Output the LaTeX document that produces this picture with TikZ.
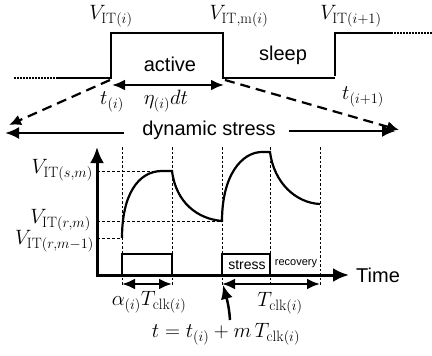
\documentclass[tikz,border=0pt]{standalone}
\usepackage{fontspec}
\setsansfont{Liberation Sans}
\DeclareMathSizes{20}{20}{15}{12}
\usetikzlibrary{arrows.meta}
\tikzset{
  wave/.style={line width=2pt, line cap=butt},
  dotwave/.style={line width=2pt, dash pattern=on 1.5pt off 1.5pt},
  guide/.style={line width=0.6pt, dash pattern=on 2.5pt off 2pt},
  hguide/.style={line width=0.8pt, dash pattern=on 3pt off 2pt},
  curve/.style={line width=2.2pt},
  dblarrow/.style={line width=2.5pt, {Latex[length=13pt,width=11pt]}-{Latex[length=13pt,width=11pt]}},
  bigarrow/.style={line width=2.5pt, -{Latex[length=14pt,width=12pt]}},
  dasharrow/.style={line width=2.2pt, dash pattern=on 10pt off 6pt, -{Latex[length=12pt,width=11pt]}},
  axis/.style={line width=3pt, -{Latex[length=16pt,width=14pt]}},
  lab/.style={font=\fontsize{20}{22}\selectfont, inner sep=0pt},
  word/.style={font=\sffamily\fontsize{20}{22}\selectfont, inner sep=0pt},
  smallword/.style={font=\sffamily\fontsize{14}{16}\selectfont, inner sep=0pt},
  tinyword/.style={font=\sffamily\fontsize{11}{13}\selectfont, inner sep=0pt},
}
\begin{document}
\begin{tikzpicture}[x=1pt,y=-1pt]
\useasboundingbox (0,0) rectangle (432,356);
% ---------- top waveform ----------
\coordinate (w0) at (14,78);
\coordinate (w1) at (57,78);
\coordinate (w2) at (111,78);
\coordinate (w3) at (111,33);
\coordinate (w4) at (223,33);
\coordinate (w5) at (223,78);
\coordinate (w6) at (335,78);
\coordinate (w7) at (335,33);
\coordinate (w8) at (391,33);
\coordinate (w9) at (432,33);
\draw[dotwave] (w0) -- (w1);
\draw[wave] (w1) -- (w2) -- ([yshift=2pt]w2) -- (w3) -- (w4) -- (w5) -- (w6);
\draw[wave] ([yshift=2pt]w6) -- (w7) -- (w8);
\draw[dotwave] (w8) -- (w9);

\node[lab] (vi) at (111,16) {$V_{\mathrm{IT}(i)}$};
\node[lab] (vim) at (239,16) {$V_{\mathrm{IT,m}(i)}$};
\node[lab] (vi1) at (351,16) {$V_{\mathrm{IT}(i+1)}$};
\node[word] (act) at (170,64) {active};
\node[word] (slp) at (283,55) {sleep};

\coordinate (ea) at (112,85);
\coordinate (eb) at (224,85);
\draw[dblarrow] (ea) -- (eb);
\node[lab] (ti) at (112,102) {$t_{(i)}$};
\node[lab] (eta) at (166,101) {$\eta_{(i)}dt$};
\node[lab] (ti1) at (363,97) {$t_{(i+1)}$};

% dashed projection arrows
\coordinate (dl0) at (110,80);
\coordinate (dl1) at (9,125);
\coordinate (dr0) at (225,80);
\coordinate (dr1) at (399,130);
\draw[dasharrow] (dl0) -- (dl1);
\draw[dasharrow] (dr0) -- (dr1);

% dynamic stress
\node[word] (dyn) at (209,130) {dynamic stress};
\coordinate (dsl) at (5,133);
\coordinate (dsr) at (396,131);
\draw[bigarrow] ([xshift=-18pt]dyn.west |- 0,133) -- (dsl);
\draw[bigarrow] ([xshift=13pt]dyn.east |- 0,131) -- (dsr);

% ---------- graph ----------
\coordinate (o) at (97,275);
\coordinate (ytop) at (97,147);
\coordinate (xend) at (349,275);

% vertical guides
\foreach \x in {122,172,222,270,320}
  \draw[guide] (\x,147) -- (\x,285);

% horizontal guides
\coordinate (hs) at (172,171);
\coordinate (hr) at (222,221);
\coordinate (hr1) at (122,238);
\draw[hguide] (97,171) -- (hs);
\draw[hguide] (97,221) -- (hr);
\draw[hguide] (97,238) -- (hr1);

% curves
\draw[curve] (hr1) .. controls (122,195) and (138,171) .. (162,171) -- (hs)
  .. controls (176,203) and (198,219) .. (hr)
  .. controls (222,175) and (242,152) .. (262,152) -- (270,152)
  .. controls (274,183) and (296,203) .. (320,204);

% stress boxes
\draw[wave] (122,254) rectangle (172,275);
\draw[wave] (222,254) rectangle (270,275);
\node[smallword] (st) at (247,265) {stress};
\node[tinyword] (rec) at (296,264) {recovery};

% axes
\draw[axis] ([yshift=1.5pt]o) -- (ytop);
\draw[axis] ([xshift=-1.5pt]o) -- (xend);
\node[word,anchor=west] (time) at (356,275) {Time};

\node[lab,anchor=east] (vsm) at (93,170) {$V_{\mathrm{IT}(s,m)}$};
\node[lab,anchor=east] (vrm) at (91,220) {$V_{\mathrm{IT}(r,m)}$};
\node[lab,anchor=east] (vrm1) at (94,241) {$V_{\mathrm{IT}(r,m-1)}$};

% bottom arrows
\coordinate (a1) at (122,284);
\coordinate (a2) at (172,284);
\coordinate (b1) at (222,284);
\coordinate (b2) at (320,284);
\draw[dblarrow] (a1) -- (a2);
\draw[dblarrow] (b1) -- (b2);
\node[lab] (al) at (149,302) {$\alpha_{(i)}T_{\mathrm{clk}(i)}$};
\node[lab] (tc) at (280,303) {$T_{\mathrm{clk}(i)}$};

\coordinate (cu0) at (230,320);
\coordinate (cu1) at (223,285);
\draw[bigarrow] (cu0) .. controls (229,305) and (226,296) .. (cu1);

\node[lab] (form) at (226,334) {$t=t_{(i)}+m\,T_{\mathrm{clk}(i)}$};
\end{tikzpicture}
\end{document}
